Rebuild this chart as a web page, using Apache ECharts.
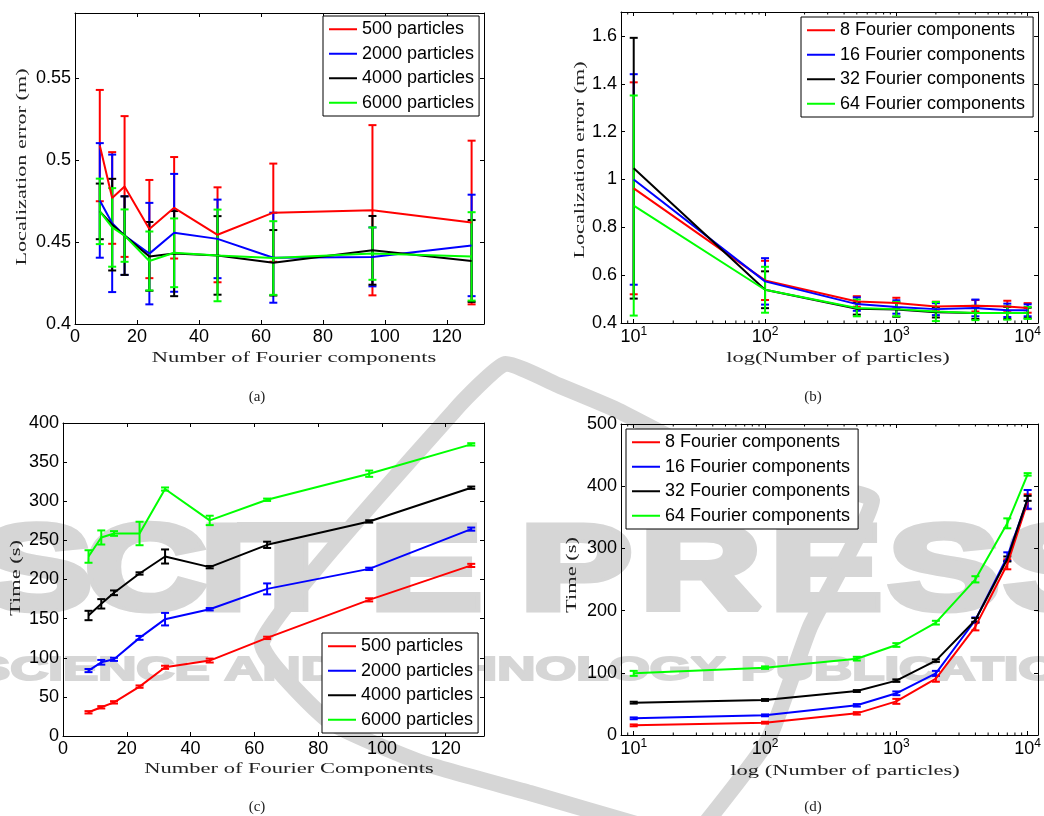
<!DOCTYPE html>
<html>
<head>
<meta charset="utf-8">
<title>Localization error and run time</title>
<script src="https://cdn.jsdelivr.net/npm/echarts@6/dist/echarts.min.js"></script>
<style>
  html, body { margin: 0; padding: 0; background: #fff; }
  #chart { width: 1044px; height: 816px; }
</style>
</head>
<body>
<div id="chart"></div>
<script>
// x values
const fourierComps = [8, 12, 16, 24, 32, 46, 64, 96, 128];
const particleCounts = [10, 100, 500, 1000, 2000, 4000, 7000, 10000];
const logMinorTicks = [9, 20, 30, 40, 50, 60, 70, 80, 90, 200, 300, 400, 500, 600, 700, 800, 900,
  2000, 3000, 4000, 5000, 6000, 7000, 8000, 9000];

const particleNames = ["500 particles", "2000 particles", "4000 particles", "6000 particles"];
const fourierNames = ["8 Fourier components", "16 Fourier components", "32 Fourier components", "64 Fourier components"];
const colors = ["#ff0000", "#0000ff", "#000000", "#00ff00"];

// (a) localization error vs number of Fourier components (mean, std)
const aMean500 = [0.509, 0.477, 0.484, 0.458, 0.471, 0.4545, 0.468, 0.4695, 0.462];
const aSd500 = [0.034, 0.028, 0.043, 0.030, 0.031, 0.029, 0.030, 0.052, 0.050];
const aMean2000 = [0.4755, 0.4615, 0.454, 0.443, 0.4557, 0.452, 0.4405, 0.441, 0.448];
const aSd2000 = [0.035, 0.042, 0.024, 0.031, 0.036, 0.024, 0.0275, 0.018, 0.031];
const aMean4000 = [0.4688, 0.4607, 0.454, 0.4413, 0.443, 0.4419, 0.4374, 0.445, 0.4385];
const aSd4000 = [0.017, 0.028, 0.024, 0.021, 0.026, 0.024, 0.020, 0.021, 0.025];
const aMean6000 = [0.4688, 0.459, 0.454, 0.4385, 0.4435, 0.4419, 0.4403, 0.443, 0.4413];
const aSd6000 = [0.020, 0.024, 0.016, 0.018, 0.021, 0.028, 0.0225, 0.016, 0.027];

// (b) localization error vs number of particles
const bMean8 = [0.963, 0.578, 0.490, 0.4835, 0.469, 0.472, 0.469, 0.463];
const bSd8 = [0.443, 0.082, 0.022, 0.022, 0.020, 0.024, 0.024, 0.020];
const bMean16 = [1.0, 0.574, 0.479, 0.467, 0.458, 0.463, 0.453, 0.453];
const bSd16 = [0.44, 0.097, 0.028, 0.028, 0.025, 0.035, 0.028, 0.025];
const bMean32 = [1.047, 0.539, 0.460, 0.456, 0.445, 0.442, 0.442, 0.442];
const bSd32 = [0.545, 0.077, 0.025, 0.030, 0.022, 0.025, 0.025, 0.022];
const bMean64 = [0.891, 0.539, 0.463, 0.458, 0.448, 0.442, 0.442, 0.442];
const bSd64 = [0.46, 0.096, 0.035, 0.030, 0.040, 0.030, 0.028, 0.025];

// (c) time vs number of Fourier components
const cMean500 = [30.3, 36.7, 43, 63.1, 87.8, 96.4, 125.4, 174, 218];
const cSd500 = [1.5, 1.5, 1.5, 1.5, 2, 2.5, 1.5, 2, 2];
const cMean2000 = [83.6, 94.2, 98, 125.4, 149.3, 162, 188, 213.6, 264.4];
const cSd2000 = [2, 3, 2, 2.5, 8, 1.5, 7, 1.5, 2];
const cMean4000 = [154, 168.9, 183, 207.7, 229.4, 215.8, 244.3, 274.2, 317.3];
const cSd4000 = [6, 6, 3, 1.5, 9, 1.5, 4, 1.5, 1.5];
const cMean6000 = [229.4, 253.7, 258.8, 258.8, 315.6, 275.5, 301.9, 335.2, 372.7];
const cSd6000 = [8, 9, 3, 15, 2, 6, 1.5, 4, 1.5];

// (d) time vs number of particles
const dMean8 = [15.5, 19.8, 34.8, 54.1, 90.6, 174.2, 274.4, 375];
const dSd8 = [1.5, 1.5, 2, 4, 5, 6, 8, 12];
const dMean16 = [26.8, 31.6, 47.7, 67, 99.1, 184.9, 286.7, 378.9];
const dSd16 = [1.5, 1.5, 2, 3, 4, 4, 7, 15];
const dMean32 = [52, 56.3, 70.7, 87.4, 119.5, 185, 283, 380.5];
const dSd32 = [1.5, 1.5, 1.5, 2, 2, 3, 4, 4];
const dMean64 = [99.1, 108.3, 122.7, 144.7, 180.6, 250.3, 340.3, 419];
const dSd64 = [4, 2, 3, 3, 3, 5, 8, 2];

const sansFont = "'Liberation Sans', Arial, sans-serif";
const serifFont = "'Liberation Serif', 'Times New Roman', serif";
const watermarkGray = "#d6d6d6";

function valueAxis(gridIndex, position, min, max, interval, showLabel, showMaxLabel) {
  return {
    type: "value", gridIndex, position, min, max, interval,
    axisLine: { show: true, onZero: false, lineStyle: { color: "#000", width: 1 } },
    axisTick: { show: true, inside: true, length: 4, lineStyle: { color: "#000" } },
    axisLabel: {
      show: showLabel, color: "#000", fontSize: 18, fontFamily: sansFont, margin: 4,
      showMaxLabel: showMaxLabel
    },
    splitLine: { show: false }
  };
}

function logAxis(gridIndex, position, showLabel) {
  return {
    type: "log", logBase: 10, gridIndex, position, min: 8, max: 12000,
    axisLine: { show: true, onZero: false, lineStyle: { color: "#000", width: 1 } },
    axisTick: { show: true, inside: true, length: 4, lineStyle: { color: "#000" } },
    axisLabel: {
      show: showLabel, margin: 3, showMinLabel: false, showMaxLabel: false,
      formatter: v => "{b|10}{s|" + Math.round(Math.log10(v)) + "}",
      rich: {
        b: { fontSize: 18, fontFamily: sansFont, color: "#000" },
        s: { fontSize: 12, fontFamily: sansFont, color: "#000", padding: [0, 0, 10, 0] }
      }
    },
    splitLine: { show: false }
  };
}

function lineSeries(name, xs, ys, color, axis) {
  return {
    type: "line", name, xAxisIndex: axis, yAxisIndex: axis,
    data: xs.map((x, i) => [x, ys[i]]),
    symbol: "none", color, itemStyle: { color },
    lineStyle: { color, width: 2 }, silent: true
  };
}

function errSeries(name, xs, ys, sds, color, axis) {
  return {
    type: "custom", name: name + " error", xAxisIndex: axis, yAxisIndex: axis,
    data: xs.map((x, i) => [x, ys[i] - sds[i], ys[i] + sds[i]]),
    encode: { x: 0, y: [1, 2] }, silent: true,
    renderItem(params, api) {
      const lo = api.coord([api.value(0), api.value(1)]);
      const hi = api.coord([api.value(0), api.value(2)]);
      const w = 4;
      const style = { stroke: color, lineWidth: 2 };
      return {
        type: "group",
        children: [
          { type: "line", shape: { x1: lo[0], y1: lo[1], x2: hi[0], y2: hi[1] }, style },
          { type: "line", shape: { x1: lo[0] - w, y1: lo[1], x2: lo[0] + w, y2: lo[1] }, style },
          { type: "line", shape: { x1: hi[0] - w, y1: hi[1], x2: hi[0] + w, y2: hi[1] }, style }
        ]
      };
    }
  };
}

function minorTickSeries(axis, yMin) {
  return {
    type: "custom", name: "minor ticks", xAxisIndex: axis, yAxisIndex: axis,
    data: logMinorTicks.map(v => [v, yMin]), silent: true,
    renderItem(params, api) {
      const x = api.coord([api.value(0), api.value(1)])[0];
      const cs = params.coordSys;
      const style = { stroke: "#000", lineWidth: 1 };
      return {
        type: "group",
        children: [
          { type: "line", shape: { x1: x, y1: cs.y + cs.height, x2: x, y2: cs.y + cs.height - 2.5 }, style },
          { type: "line", shape: { x1: x, y1: cs.y, x2: x, y2: cs.y + 2.5 }, style }
        ]
      };
    }
  };
}

function legend(names, left, top, padRight) {
  return {
    data: names, orient: "vertical", left, top, icon: "rect",
    itemWidth: 28, itemHeight: 2, itemGap: 0, selectedMode: false,
    padding: [1, padRight, 1, 6], borderColor: "#000", borderWidth: 1, backgroundColor: "#fff",
    textStyle: { fontSize: 18, fontFamily: sansFont, color: "#000", lineHeight: 24.5 }
  };
}

function textEl(text, x, y, size, opts) {
  return Object.assign({
    type: "text", x, y, z: 5, silent: true,
    style: { text, fontSize: size, fontFamily: serifFont, fill: "#222", align: "center", verticalAlign: "middle" }
  }, opts || {});
}

// grids: a, b, c, d
const grids = [
  { left: 75, top: 13, width: 409, height: 311 },
  { left: 621, top: 12, width: 420, height: 311 },
  { left: 63, top: 423, width: 421, height: 313 },
  { left: 621, top: 424, width: 420, height: 311 }
];

const xAxes = [
  valueAxis(0, "bottom", 0, 132, 20, true, false), valueAxis(0, "top", 0, 132, 20, false, false),
  logAxis(1, "bottom", true), logAxis(1, "top", false),
  valueAxis(2, "bottom", 0, 132, 20, true, false), valueAxis(2, "top", 0, 132, 20, false, false),
  logAxis(3, "bottom", true), logAxis(3, "top", false)
];
const yAxes = [
  valueAxis(0, "left", 0.4, 0.59, 0.05, true, false), valueAxis(0, "right", 0.4, 0.59, 0.05, false, false),
  valueAxis(1, "left", 0.4, 1.7, 0.2, true, false), valueAxis(1, "right", 0.4, 1.7, 0.2, false, false),
  valueAxis(2, "left", 0, 400, 50, true, true), valueAxis(2, "right", 0, 400, 50, false, true),
  valueAxis(3, "left", 0, 500, 100, true, true), valueAxis(3, "right", 0, 500, 100, false, true)
];

const panels = [
  { axis: 0, xs: fourierComps, names: particleNames, means: [aMean500, aMean2000, aMean4000, aMean6000], sds: [aSd500, aSd2000, aSd4000, aSd6000] },
  { axis: 2, xs: particleCounts, names: fourierNames, means: [bMean8, bMean16, bMean32, bMean64], sds: [bSd8, bSd16, bSd32, bSd64] },
  { axis: 4, xs: fourierComps, names: particleNames, means: [cMean500, cMean2000, cMean4000, cMean6000], sds: [cSd500, cSd2000, cSd4000, cSd6000] },
  { axis: 6, xs: particleCounts, names: fourierNames, means: [dMean8, dMean16, dMean32, dMean64], sds: [dSd8, dSd16, dSd32, dSd64] }
];

const series = [minorTickSeries(2, 0.4), minorTickSeries(6, 0)];
panels.forEach(p => {
  p.means.forEach((m, i) => {
    series.push(lineSeries(p.names[i], p.xs, m, colors[i], p.axis));
    series.push(errSeries(p.names[i], p.xs, m, p.sds[i], colors[i], p.axis));
  });
});

// publisher watermark behind the plots
const bigLetters = [["S", -20], ["C", 85], ["I", 200], ["T", 240], ["E", 370], ["P", 520], ["R", 640], ["E", 770], ["S", 888], ["S", 1004]];
const watermark = bigLetters.map(([ch, x]) => ({
  type: "text", x, y: 576, z: -10, silent: true, scaleX: 1.4,
  style: { text: ch, fontSize: 120, fontWeight: "bold", fontFamily: sansFont, fill: watermarkGray,
    stroke: watermarkGray, lineWidth: 7, align: "left", verticalAlign: "middle" }
}));
watermark.push({
  type: "text", x: -25, y: 671, z: -10, silent: true, scaleX: 1.6,
  style: { text: "SCIENCE AND TECHNOLOGY PUBLICATIONS", fontSize: 33, fontWeight: "bold", fontFamily: sansFont,
    fill: watermarkGray, stroke: watermarkGray, lineWidth: 2, align: "left", verticalAlign: "middle" }
});
// logo outline: left side, apex between the top panels, right side under the (d) legend
watermark.push({
  type: "polyline", z: -10, silent: true,
  shape: {
    points: [[650, 828], [530, 793], [420, 762], [330, 722], [262, 642], [455, 410], [505, 364],
      [560, 386], [617, 410], [700, 452], [800, 483], [872, 500], [810, 627], [768, 740], [700, 830]],
    smooth: 0.15
  },
  style: { stroke: watermarkGray, lineWidth: 16, fill: null, lineJoin: "round", lineCap: "round" }
});

const labels = [
  textEl("Localization error (m)", 22, 167, 15, { rotation: Math.PI / 2, scaleX: 1.48 }),
  textEl("Number of Fourier components", 294, 358, 15, { scaleX: 1.5 }),
  textEl("Localization error (m)", 580, 160, 15, { rotation: Math.PI / 2, scaleX: 1.48 }),
  textEl("log(Number of particles)", 838, 358, 15, { scaleX: 1.5 }),
  textEl("Time (s)", 16, 578, 15, { rotation: Math.PI / 2, scaleX: 1.5 }),
  textEl("Number of Fourier Components", 289, 769, 15, { scaleX: 1.5 }),
  textEl("Time (s)", 572, 575, 15, { rotation: Math.PI / 2, scaleX: 1.5 }),
  textEl("log (Number of particles)", 845, 771, 15, { scaleX: 1.5 }),
  textEl("(a)", 257, 397, 15),
  textEl("(b)", 813, 397, 15),
  textEl("(c)", 257, 807, 15),
  textEl("(d)", 813, 807, 15)
];

const chart = echarts.init(document.getElementById("chart"));
chart.setOption({
  animation: false,
  backgroundColor: "#fff",
  grid: grids,
  xAxis: xAxes,
  yAxis: yAxes,
  legend: [
    legend(particleNames, 323, 16, 5),
    legend(fourierNames, 801, 17, 8),
    legend(particleNames, 322, 633, 5),
    legend(fourierNames, 626, 429, 8)
  ],
  graphic: { elements: watermark.concat(labels) },
  series
});
</script>
</body>
</html>
